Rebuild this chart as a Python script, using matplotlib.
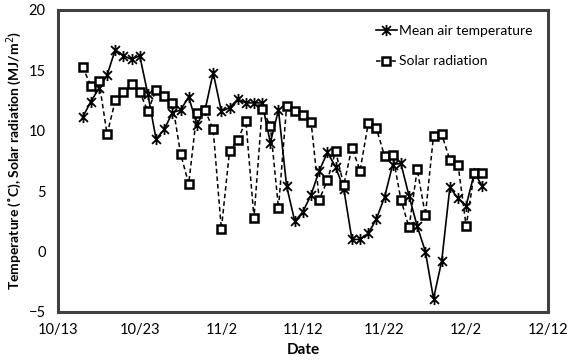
import matplotlib
matplotlib.use("Agg")
import matplotlib.pyplot as plt
from matplotlib.path import Path
import pandas as pd

plt.rcParams['font.family'] = ['Lato', 'DejaVu Sans']

dates = ["10/16", "10/17", "10/18", "10/19", "10/20", "10/21", "10/22", "10/23", "10/24", "10/25",
         "10/26", "10/27", "10/28", "10/29", "10/30", "10/31", "11/1", "11/2", "11/3", "11/4",
         "11/5", "11/6", "11/7", "11/8", "11/9", "11/10", "11/11", "11/12", "11/13", "11/14",
         "11/15", "11/16", "11/17", "11/18", "11/19", "11/20", "11/21", "11/22", "11/23", "11/24",
         "11/25", "11/26", "11/27", "11/28", "11/29", "11/30", "12/1", "12/2", "12/3", "12/4"]

mean_air_temperature = [11.1, 12.4, 13.5, 14.6, 16.7, 16.2, 15.9, 16.2, 13.0, 9.3,
                        10.1, 11.5, 11.7, 12.8, 10.5, 11.7, 14.8, 11.6, 11.9, 12.6,
                        12.3, 12.3, 12.3, 9.0, 11.7, 5.4, 2.5, 3.3, 4.7, 6.7,
                        8.2, 7.0, 5.2, 1.0, 1.0, 1.5, 2.7, 4.5, 7.2, 7.3,
                        4.6, 2.1, 0.0, -3.9, -0.8, 5.3, 4.4, 3.8, 6.5, 5.4]

solar_radiation = [15.3, 13.7, 14.1, 9.7, 12.5, 13.2, 13.9, 13.2, 11.6, 13.4,
                   12.9, 12.3, 8.1, 5.6, 11.5, 11.7, 10.1, 1.85, 8.3, 9.2,
                   10.8, 2.8, 11.8, 10.4, 3.6, 12.05, 11.6, 11.3, 10.7, 4.3,
                   5.9, 8.3, 5.5, 8.6, 6.7, 10.6, 10.2, 7.9, 8.0, 4.3,
                   2.0, 6.8, 3.0, 9.6, 9.7, 7.6, 7.2, 2.1, 6.5, 6.5]

tick_labels = ["10/13", "10/23", "11/2", "11/12", "11/22", "12/2", "12/12"]
year = 2013

x = pd.to_datetime([f"{year}/{d}" for d in dates], format="%Y/%m/%d")
ticks = pd.to_datetime([f"{year}/{d}" for d in tick_labels], format="%Y/%m/%d")

# asterisk marker: X plus vertical line
star = Path([(0, -1), (0, 1), (-0.8, -0.8), (0.8, 0.8), (-0.8, 0.8), (0.8, -0.8)],
            [Path.MOVETO, Path.LINETO, Path.MOVETO, Path.LINETO, Path.MOVETO, Path.LINETO])

fig = plt.figure(figsize=(5.70, 3.64), dpi=100)
ax = fig.add_axes([0.102, 0.143, 0.859, 0.830])

ax.plot(x, mean_air_temperature, color='black', lw=1.2, marker=star, ms=8,
        mew=1.3, mec='black', label='Mean air temperature', zorder=3)
ax.plot(x, solar_radiation, color='black', lw=1.1, ls=(0, (3, 2)), marker='s', ms=5.2,
        mfc='white', mec='black', mew=1.8, label='Solar radiation', zorder=4)

ax.set_xlim(ticks[0], ticks[-1])
ax.set_ylim(-5, 20)
ax.set_xticks(ticks)
ax.set_xticklabels(tick_labels)
ax.set_yticks([-5, 0, 5, 10, 15, 20])
ax.tick_params(axis='both', length=0, labelsize=10.5, colors='black')
ax.tick_params(axis='y', pad=9)
ax.tick_params(axis='x', pad=8)

for s in ax.spines.values():
    s.set_linewidth(2.2)
    s.set_color('#404040')

ax.set_xlabel('Date', fontsize=11, fontweight='bold', labelpad=4)
ax.set_ylabel('Temperature (˚C), Solar radiation (MJ/m$^{2}$)', fontsize=10,
              fontweight='bold', labelpad=3)

leg = ax.legend(loc='upper right', bbox_to_anchor=(0.995, 0.99), frameon=False,
                fontsize=10, handlelength=1.5, handletextpad=0.2, labelspacing=1.3)

fig.savefig('out.png', dpi=100)
